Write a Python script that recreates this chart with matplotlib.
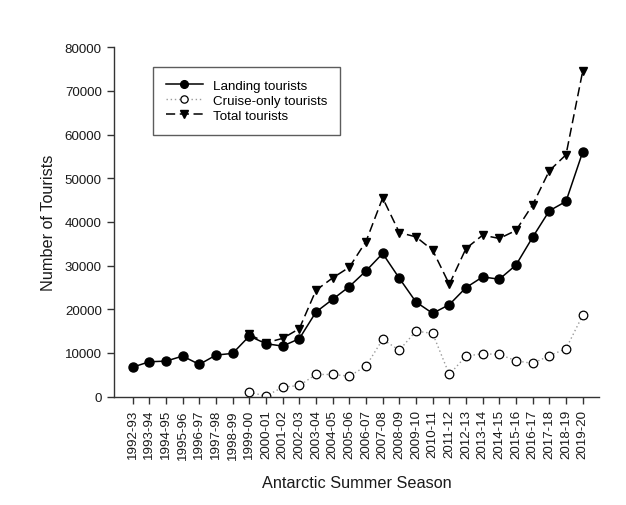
import matplotlib
matplotlib.use("Agg")
import matplotlib.pyplot as plt
import numpy as np

plt.rcParams['font.family'] = ['Liberation Sans', 'DejaVu Sans']

seasons = ["1992-93", "1993-94", "1994-95", "1995-96", "1996-97", "1997-98", "1998-99",
           "1999-00", "2000-01", "2001-02", "2002-03", "2003-04", "2004-05", "2005-06",
           "2006-07", "2007-08", "2008-09", "2009-10", "2010-11", "2011-12", "2012-13",
           "2013-14", "2014-15", "2015-16", "2016-17", "2017-18", "2018-19", "2019-20"]

landing = [6720, 7960, 8110, 9260, 7350, 9490, 9880, 13850, 12100, 11550, 13250, 19360,
           22270, 25190, 28770, 32770, 27090, 21650, 19060, 21050, 24950, 27400, 26870,
           30120, 36500, 42550, 44700, 56000]

cruise_seasons = seasons[7:]
cruise = [990, 100, 2140, 2530, 5050, 5050, 4660, 6960, 13080, 10620, 14990, 14460, 5050,
          9260, 9800, 9640, 8200, 7580, 9340, 10950, 18600]

total_seasons = seasons[7:]
total = [14230, 12300, 13320, 15540, 24340, 27170, 29620, 35510, 45500, 37560, 36570,
         33520, 25710, 33910, 36970, 36210, 38050, 43920, 51730, 55380, 74500]

yticks = [0, 10000, 20000, 30000, 40000, 50000, 60000, 70000, 80000]

fig = plt.figure(figsize=(6.26, 5.06), dpi=100)
ax = fig.add_axes([0.1826, 0.2144, 0.7748, 0.6901])

idx = {s: i for i, s in enumerate(seasons)}
x_all = [idx[s] for s in seasons]
x_cr = [idx[s] for s in cruise_seasons]
x_tot = [idx[s] for s in total_seasons]

ax.plot(x_cr, cruise, linestyle=(0, (1, 2)), color='#9a9a9a', linewidth=1.0,
        marker='o', markersize=6.2, markerfacecolor='white', markeredgecolor='black',
        markeredgewidth=0.9, label='Cruise-only tourists', zorder=2)
ax.plot(x_tot, total, linestyle=(0, (6, 3)), color='black', linewidth=1.1,
        marker='v', markersize=6.2, markerfacecolor='black', markeredgecolor='black',
        label='Total tourists', zorder=3)
ax.plot(x_all, landing, linestyle='-', color='black', linewidth=1.1,
        marker='o', markersize=6.5, markerfacecolor='black', markeredgecolor='black',
        label='Landing tourists', zorder=4)

ax.set_xlim(-1.1, 28.0)
ax.set_ylim(0, 80000)
ax.set_yticks(yticks)
ax.set_yticklabels([str(v) for v in yticks])
ax.set_xticks(x_all)
ax.set_xticklabels(seasons, rotation=90)

for s in ['top', 'right']:
    ax.spines[s].set_visible(False)
for s in ['left', 'bottom']:
    ax.spines[s].set_color('#333333')
    ax.spines[s].set_linewidth(1.0)
ax.tick_params(axis='both', direction='out', length=5, width=1.0, color='#333333',
               labelsize=9.6, labelcolor='#1a1a1a', pad=4)

ax.set_xlabel('Antarctic Summer Season', fontsize=11.7, color='#1a1a1a', labelpad=12)
ax.set_ylabel('Number of Tourists', fontsize=11.7, color='#1a1a1a', labelpad=6)

handles, labels = ax.get_legend_handles_labels()
order = [2, 0, 1]
leg = ax.legend([handles[i] for i in order], [labels[i] for i in order],
                loc='upper left', bbox_to_anchor=(153 / 626, 1 - 68 / 506),
                bbox_transform=fig.transFigure, frameon=True, fancybox=False,
                edgecolor='#333333', fontsize=9.6, handlelength=2.8,
                handletextpad=0.75, borderpad=0.95, labelspacing=0.2,
                borderaxespad=0, markerscale=0.85)
leg.get_frame().set_linewidth(1.0)

fig.savefig('out.png', dpi=100)
